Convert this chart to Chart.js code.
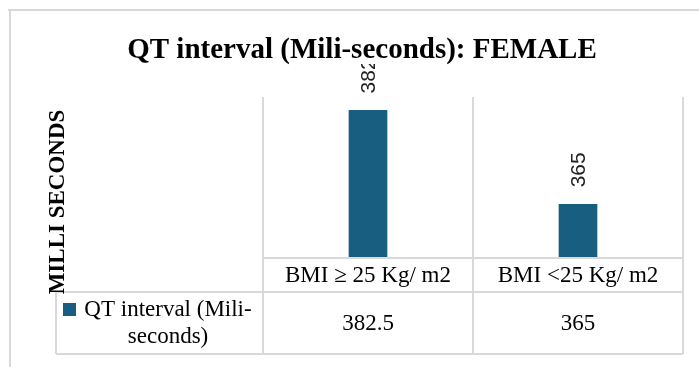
<!DOCTYPE html>
<html>
<head>
<meta charset="utf-8">
<script src="https://cdn.jsdelivr.net/npm/chart.js@4/dist/chart.umd.min.js"></script>
<style>
  html, body { margin: 0; padding: 0; background: #fff; }
  #wrap { width: 699px; height: 367px; position: relative; }
</style>
</head>
<body>
<div id="wrap"><canvas id="qt"></canvas></div>
<script>
// data
const categories = ["BMI \u2265 25 Kg/ m2", "BMI <25 Kg/ m2"];
const qtValues = [382.5, 365];
const seriesName = "QT interval (Mili-seconds)";
const legendLines = ["QT interval (Mili-", "seconds)"];
const chartTitle = "QT interval (Mili-seconds): FEMALE";
const yTitle = "MILLI SECONDS";

const barColor = "#175e80";
const lineColor = "#d9d9d9";
const serif = "'Liberation Serif', 'Times New Roman', serif";

// table, labels, titles drawn around the plot
const tablePlugin = {
    id: "tablePlugin",
    afterDraw(chart) {
        const ctx = chart.ctx;
        const x = chart.scales.x;
        const area = chart.chartArea;
        const tableLeft = 56, row1 = area.bottom + 34, row2 = area.bottom + 96;
        const edges = [area.left, x.getPixelForValue(0) + (x.getPixelForValue(1) - x.getPixelForValue(0)) / 2, area.right];

        ctx.save();
        ctx.strokeStyle = lineColor;
        ctx.lineWidth = 2;
        ctx.beginPath();
        // outer frame
        ctx.moveTo(8, 10); ctx.lineTo(699, 10);
        ctx.moveTo(10, 10); ctx.lineTo(10, 367);
        // table rows
        ctx.moveTo(area.left, area.bottom); ctx.lineTo(area.right, area.bottom);
        ctx.moveTo(tableLeft, row1); ctx.lineTo(area.right, row1);
        ctx.moveTo(tableLeft, row2); ctx.lineTo(area.right, row2);
        ctx.moveTo(tableLeft, row1); ctx.lineTo(tableLeft, row2);
        edges.forEach(e => { ctx.moveTo(e, area.bottom); ctx.lineTo(e, row2); });
        ctx.stroke();

        // category labels and values
        ctx.fillStyle = "#000";
        ctx.font = "23px " + serif;
        ctx.textAlign = "center";
        ctx.textBaseline = "middle";
        categories.forEach((c, i) => {
            const cx = x.getPixelForValue(i);
            ctx.fillText(c, cx, area.bottom + 18);
            ctx.fillText(String(qtValues[i]), cx, row1 + 32);
        });

        // legend key
        ctx.fillStyle = barColor;
        ctx.fillRect(63, row1 + 11, 13, 13);
        ctx.fillStyle = "#000";
        ctx.fillText(legendLines[0], 168, row1 + 18);
        ctx.fillText(legendLines[1], 168, row1 + 45);

        // data labels, rotated
        ctx.font = "21px 'Liberation Sans', Arial, sans-serif";
        ctx.fillStyle = "#222";
        chart.getDatasetMeta(0).data.forEach((bar, i) => {
            ctx.save();
            ctx.translate(bar.x, bar.y - 17);
            ctx.rotate(-Math.PI / 2);
            ctx.textAlign = "left";
            ctx.textBaseline = "middle";
            ctx.fillText(String(qtValues[i]), 0, 1);
            ctx.restore();
        });

        // chart title over a white box
        ctx.font = "bold 29px " + serif;
        const tw = ctx.measureText(chartTitle).width;
        ctx.fillStyle = "#fff";
        ctx.fillRect(362 - tw / 2, 37, tw, 27);
        ctx.fillStyle = "#000";
        ctx.textAlign = "center";
        ctx.textBaseline = "alphabetic";
        ctx.fillText(chartTitle, 362, 58);

        // y axis title
        ctx.save();
        ctx.translate(57, 202);
        ctx.rotate(-Math.PI / 2);
        ctx.font = "bold 23px " + serif;
        ctx.textBaseline = "middle";
        ctx.fillText(yTitle, 0, 1);
        ctx.restore();

        ctx.restore();
    }
};

new Chart(document.getElementById("qt"), {
    type: "bar",
    data: {
        labels: categories,
        datasets: [{
            label: seriesName,
            data: qtValues,
            backgroundColor: barColor,
            barThickness: 38
        }]
    },
    options: {
        responsive: true,
        maintainAspectRatio: false,
        animation: false,
        layout: { padding: { left: 263, right: 16, top: 97, bottom: 109 } },
        plugins: {
            legend: { display: false },
            title: { display: false },
            tooltip: { enabled: false }
        },
        scales: {
            x: {
                offset: true,
                ticks: { display: false },
                grid: { offset: true, color: lineColor, lineWidth: 2, drawTicks: false },
                border: { color: lineColor, width: 2 }
            },
            y: {
                display: false,
                min: 355,
                max: 385
            }
        }
    },
    plugins: [tablePlugin]
});
</script>
</body>
</html>
